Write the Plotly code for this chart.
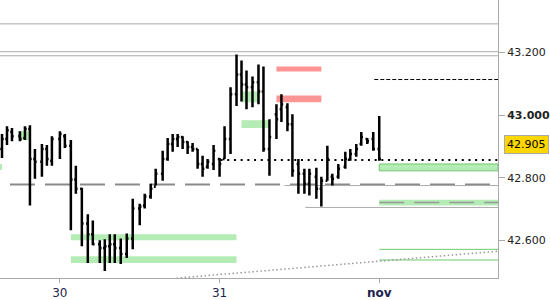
import plotly.graph_objects as go

times = [
    "2023-10-29 15:18", "2023-10-29 16:03", "2023-10-29 16:48", "2023-10-29 18:00", "2023-10-29 18:45",
    "2023-10-29 19:30", "2023-10-29 20:15", "2023-10-29 21:18", "2023-10-29 22:03", "2023-10-29 22:48",
    "2023-10-30 00:00", "2023-10-30 00:45", "2023-10-30 01:39", "2023-10-30 02:24", "2023-10-30 03:18",
    "2023-10-30 04:12", "2023-10-30 04:57", "2023-10-30 06:00", "2023-10-30 06:45", "2023-10-30 07:30",
    "2023-10-30 08:15", "2023-10-30 09:09", "2023-10-30 10:03", "2023-10-30 10:57", "2023-10-30 12:00",
    "2023-10-30 12:45", "2023-10-30 13:39", "2023-10-30 14:24", "2023-10-30 15:27", "2023-10-30 16:12",
    "2023-10-30 16:57", "2023-10-30 17:42", "2023-10-30 18:27", "2023-10-30 19:12", "2023-10-30 19:57",
    "2023-10-30 20:42", "2023-10-30 21:27", "2023-10-30 22:12", "2023-10-30 23:06", "2023-10-31 00:00",
    "2023-10-31 00:45", "2023-10-31 01:39", "2023-10-31 02:33", "2023-10-31 03:18", "2023-10-31 04:03",
    "2023-10-31 04:57", "2023-10-31 05:51", "2023-10-31 06:36", "2023-10-31 07:30", "2023-10-31 08:33",
    "2023-10-31 09:18", "2023-10-31 10:12", "2023-10-31 10:57", "2023-10-31 11:51", "2023-10-31 12:45",
    "2023-10-31 13:30", "2023-10-31 14:33", "2023-10-31 15:18", "2023-10-31 16:12", "2023-10-31 16:57",
    "2023-10-31 17:51", "2023-10-31 18:54", "2023-10-31 19:39", "2023-10-31 20:33", "2023-10-31 21:18",
    "2023-10-31 22:12", "2023-10-31 23:06", "2023-11-01 00:00",
]
opens = [42.892, 42.924, 42.946, 42.933, 42.927, 42.956, 42.860, 42.851, 42.892, 42.854,
         42.924, 42.933, 42.902, 42.794, 42.765, 42.654, 42.619, 42.587, 42.575, 42.581,
         42.587, 42.575, 42.556, 42.606, 42.702, 42.711, 42.740, 42.771, 42.813, 42.860,
         42.908, 42.924, 42.930, 42.914, 42.898, 42.892, 42.844, 42.835, 42.844, 42.860,
         42.860, 42.924, 43.067, 43.130, 43.098, 43.089, 43.105, 43.076, 42.892, 43.003,
         43.019, 43.025, 42.971, 42.844, 42.813, 42.781, 42.803, 42.765, 42.790, 42.803,
         42.803, 42.835, 42.860, 42.876, 42.908, 42.924, 42.924, 42.892]
highs = [42.940, 42.965, 42.959, 42.949, 42.965, 42.968, 42.892, 42.908, 42.905, 42.933,
         42.949, 42.940, 42.921, 42.838, 42.768, 42.683, 42.663, 42.600, 42.603, 42.619,
         42.619, 42.606, 42.622, 42.733, 42.717, 42.749, 42.781, 42.829, 42.886, 42.927,
         42.940, 42.940, 42.933, 42.917, 42.911, 42.892, 42.870, 42.860, 42.905, 42.863,
         42.965, 43.089, 43.194, 43.175, 43.143, 43.124, 43.162, 43.156, 42.987, 43.035,
         43.067, 43.038, 43.003, 42.860, 42.829, 42.829, 42.832, 42.803, 42.902, 42.813,
         42.844, 42.883, 42.892, 42.908, 42.946, 42.927, 42.946, 42.997]
lows = [42.863, 42.905, 42.917, 42.917, 42.921, 42.711, 42.797, 42.803, 42.838, 42.838,
        42.860, 42.895, 42.632, 42.749, 42.581, 42.527, 42.584, 42.527, 42.502, 42.527,
        42.527, 42.524, 42.543, 42.571, 42.648, 42.702, 42.733, 42.775, 42.790, 42.854,
        42.883, 42.898, 42.892, 42.876, 42.883, 42.829, 42.803, 42.829, 42.825, 42.803,
        42.860, 42.876, 43.029, 43.044, 43.019, 43.025, 43.035, 42.883, 42.806, 42.924,
        42.978, 42.949, 42.803, 42.749, 42.749, 42.743, 42.733, 42.708, 42.790, 42.775,
        42.797, 42.829, 42.854, 42.867, 42.902, 42.908, 42.886, 42.854]
closes = [42.924, 42.952, 42.933, 42.924, 42.956, 42.860, 42.851, 42.892, 42.860, 42.924,
          42.940, 42.902, 42.794, 42.765, 42.654, 42.619, 42.587, 42.575, 42.581, 42.587,
          42.575, 42.556, 42.606, 42.702, 42.708, 42.740, 42.765, 42.813, 42.860, 42.908,
          42.924, 42.930, 42.914, 42.898, 42.892, 42.844, 42.829, 42.851, 42.886, 42.844,
          42.924, 43.067, 43.130, 43.098, 43.089, 43.105, 43.076, 42.892, 42.930, 42.987,
          43.035, 42.971, 42.822, 42.813, 42.781, 42.813, 42.765, 42.790, 42.860, 42.797,
          42.829, 42.860, 42.876, 42.892, 42.930, 42.917, 42.892, 42.860]

y_ticks = [42.6, 42.8, 43.0, 43.2]
y_labels = ["42.600", "42.800", "<b>43.000</b>", "43.200"]
x_ticks = ["2023-10-30", "2023-10-31", "2023-11-01"]
x_labels = ["30", "31", "<b>nov</b>"]
last_price = 42.905
x_start, x_end = "2023-10-29 15:00", "2023-11-01 17:51"
y_min, y_max = 42.4794, 43.3683

# levels
gray_levels = [43.292, 43.203, 43.190]
red_zones = [(43.140, 43.156), (43.041, 43.063)]
red_zone_x = ("2023-10-31 08:33", "2023-10-31 15:18")
green_zones = [
    ("2023-10-29 17:42", "2023-10-29 19:39", 42.921, 42.949),
    ("2023-10-29 14:00", "2023-10-29 15:18", 42.825, 42.844),
    ("2023-10-31 03:18", "2023-10-31 06:00", 43.041, 43.076),
    ("2023-10-31 03:18", "2023-10-31 07:30", 42.959, 42.984),
    ("2023-10-30 01:39", "2023-10-31 02:33", 42.600, 42.619),
    ("2023-10-30 01:39", "2023-10-31 02:33", 42.527, 42.549),
    ("2023-11-01 00:00", x_end, 42.711, 42.730),
]
green_box = ("2023-11-01 00:00", x_end, 42.822, 42.844)
green_lines = [42.571, 42.537]
gray_dash_level = 42.778
gray_thin = [("2023-10-31 09:45", 42.775), ("2023-10-31 12:54", 42.705)]
small_dash_level = 42.721
black_dash_level = (43.114, "2023-10-31 23:15")
price_dot_level = (42.857, "2023-10-31 00:09")
trend = [("2023-10-30 17:33", 42.479), (x_end, 42.565)]

fig = go.Figure()
fig.add_trace(go.Ohlc(
    x=times, open=opens, high=highs, low=lows, close=closes,
    increasing=dict(line=dict(color="black", width=2.5)),
    decreasing=dict(line=dict(color="black", width=2.5)),
    tickwidth=0.35, showlegend=False, hoverinfo="skip",
))

shapes = []
GREEN = "rgb(181,236,181)"
for y in gray_levels:
    shapes.append(dict(type="line", xref="x", yref="y", x0=x_start, x1=x_end, y0=y, y1=y,
                       line=dict(color="#aaaaaa", width=1), layer="below"))
for y0, y1 in red_zones:
    shapes.append(dict(type="rect", xref="x", yref="y", x0=red_zone_x[0], x1=red_zone_x[1], y0=y0, y1=y1,
                       fillcolor="rgb(255,148,148)", line=dict(width=0), layer="below"))
for x0, x1, y0, y1 in green_zones:
    shapes.append(dict(type="rect", xref="x", yref="y", x0=x0, x1=x1, y0=y0, y1=y1,
                       fillcolor=GREEN, line=dict(width=0), layer="below"))
shapes.append(dict(type="rect", xref="x", yref="y", x0=green_box[0], x1=green_box[1], y0=green_box[2], y1=green_box[3],
                   fillcolor=GREEN, line=dict(color="rgb(110,200,110)", width=1), layer="below"))
for y in green_lines:
    shapes.append(dict(type="line", xref="x", yref="y", x0="2023-11-01 00:00", x1=x_end, y0=y, y1=y,
                       line=dict(color="rgb(110,200,110)", width=1), layer="below"))
shapes.append(dict(type="line", xref="x", yref="y", x0="2023-10-29 16:30", x1=x_end, y0=gray_dash_level, y1=gray_dash_level,
                   line=dict(color="#8a8a8a", width=2, dash="25px,10px"), layer="below"))
for x0, y in gray_thin:
    shapes.append(dict(type="line", xref="x", yref="y", x0=x0, x1=x_end, y0=y, y1=y,
                       line=dict(color="#aaaaaa", width=1), layer="below"))
shapes.append(dict(type="line", xref="x", yref="y", x0="2023-11-01 00:00", x1=x_end, y0=small_dash_level, y1=small_dash_level,
                   line=dict(color="#999999", width=1.5, dash="25px,10px"), layer="below"))
shapes.append(dict(type="line", xref="x", yref="y", x0=black_dash_level[1], x1=x_end, y0=black_dash_level[0], y1=black_dash_level[0],
                   line=dict(color="black", width=1, dash="4px,2px"), layer="below"))
shapes.append(dict(type="line", xref="x", yref="y", x0=price_dot_level[1], x1=x_end, y0=price_dot_level[0], y1=price_dot_level[0],
                   line=dict(color="black", width=2, dash="2px,4.7px"), layer="below"))
shapes.append(dict(type="line", xref="x", yref="y", x0=trend[0][0], x1=trend[1][0], y0=trend[0][1], y1=trend[1][1],
                   line=dict(color="#999999", width=1.5, dash="1.5px,2.5px"), layer="below"))

fig.update_layout(
    width=550, height=300,
    margin=dict(l=0, r=51, t=0, b=20),
    paper_bgcolor="white", plot_bgcolor="white",
    shapes=shapes,
    font=dict(family="DejaVu Sans", size=11, color="#222222"),
    xaxis=dict(
        type="date", range=[x_start, x_end], rangeslider=dict(visible=False),
        tickvals=x_ticks, ticktext=x_labels, ticks="outside", ticklen=4, tickcolor="#aaaaaa",
        showgrid=False, zeroline=False, showline=True, linecolor="#aaaaaa", linewidth=1,
        tickfont=dict(family="DejaVu Sans", size=12, color="#1c2550"),
    ),
    yaxis=dict(
        side="right", range=[y_min, y_max], tickvals=y_ticks, ticktext=y_labels,
        ticks="outside", ticklen=6, tickcolor="#aaaaaa",
        showgrid=False, zeroline=False, showline=True, linecolor="#aaaaaa", linewidth=1,
        tickfont=dict(family="DejaVu Sans", size=11, color="#222222"),
    ),
    annotations=[dict(
        xref="paper", yref="y", x=1.0, y=last_price, xanchor="left", yanchor="middle",
        xshift=6, text="42.905", showarrow=False,
        bgcolor="#FFD700", bordercolor="#aaaaaa", borderwidth=1, borderpad=2,
        font=dict(family="DejaVu Sans", size=11, color="black"),
    )],
)

fig.write_html("out.html")
